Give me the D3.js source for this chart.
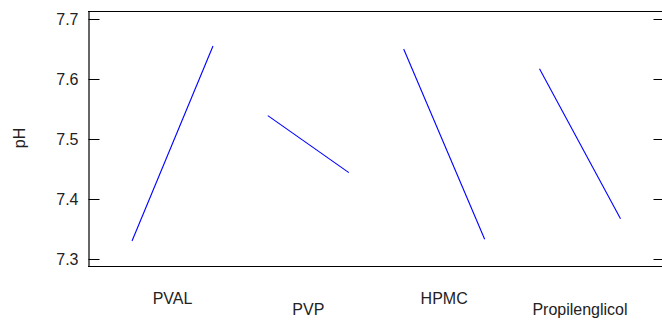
<!DOCTYPE html>
<html>
<head>
<meta charset="utf-8">
<script src="https://cdn.jsdelivr.net/npm/d3@7"></script>
<style>
  body { margin: 0; background: #fff; }
  svg { display: block; font-family: "Liberation Sans", Arial, sans-serif; }
</style>
</head>
<body>
<div id="chart"></div>
<script>
// Main effects for pH: value at low and high level of each factor
const factors = ["PVAL", "PVP", "HPMC", "Propilenglicol"];
const lowValues = [7.330, 7.539, 7.650, 7.617];
const highValues = [7.655, 7.444, 7.333, 7.367];
const yTicks = [7.3, 7.4, 7.5, 7.6, 7.7];

const width = 662, height = 321;
const plotLeft = 88, plotRight = 664, plotTop = 11, plotBottom = 266;

const svg = d3.select("#chart").append("svg")
  .attr("width", width)
  .attr("height", height);

const y = d3.scaleLinear().domain([7.28833, 7.71333]).range([plotBottom, plotTop]);

// factor centers, then level offset inside each factor
const x = d3.scalePoint().domain(factors).range([172.5, 580]);
const level = d3.scaleLinear().domain([-1, 1]).range([-40.5, 40.5]);

// frame lines
svg.append("line")
  .attr("x1", plotLeft).attr("x2", plotRight)
  .attr("y1", plotTop + 0.5).attr("y2", plotTop + 0.5)
  .attr("stroke", "#000").attr("stroke-width", 1.2);
svg.append("line")
  .attr("x1", plotLeft).attr("x2", plotRight)
  .attr("y1", plotBottom + 0.5).attr("y2", plotBottom + 0.5)
  .attr("stroke", "#000").attr("stroke-width", 1.2);

const yAxis = svg.append("g")
  .attr("transform", `translate(${plotLeft + 0.5},0)`)
  .call(d3.axisLeft(y).tickValues(yTicks).tickFormat(d3.format(".1f"))
    .tickSizeInner(-11).tickSizeOuter(0).tickPadding(10));
yAxis.select(".domain").attr("stroke-width", 1.2);
yAxis.selectAll("text").attr("font-size", 16).attr("fill", "#222").attr("font-family", null);

const yAxisR = svg.append("g")
  .attr("transform", `translate(${plotRight + 0.5},0)`)
  .call(d3.axisRight(y).tickValues(yTicks).tickFormat("")
    .tickSizeInner(-11).tickSizeOuter(0));
yAxisR.select(".domain").attr("stroke-width", 1.2);

svg.append("text")
  .attr("transform", `translate(25,138) rotate(-90)`)
  .attr("text-anchor", "middle")
  .attr("font-size", 16)
  .attr("fill", "#222")
  .text("pH");

// effect lines
const line = d3.line().x(d => d[0]).y(d => d[1]);
factors.forEach((f, i) => {
  const pts = [
    [x(f) + level(-1), y(lowValues[i])],
    [x(f) + level(1), y(highValues[i])]
  ];
  svg.append("path")
    .attr("d", line(pts))
    .attr("fill", "none")
    .attr("stroke", "#0000ff")
    .attr("stroke-width", 1.1);

  svg.append("text")
    .attr("x", x(f))
    .attr("y", i % 2 === 0 ? 304 : 315)
    .attr("text-anchor", "middle")
    .attr("font-size", 16)
    .attr("fill", "#222")
    .text(f);
});
</script>
</body>
</html>
